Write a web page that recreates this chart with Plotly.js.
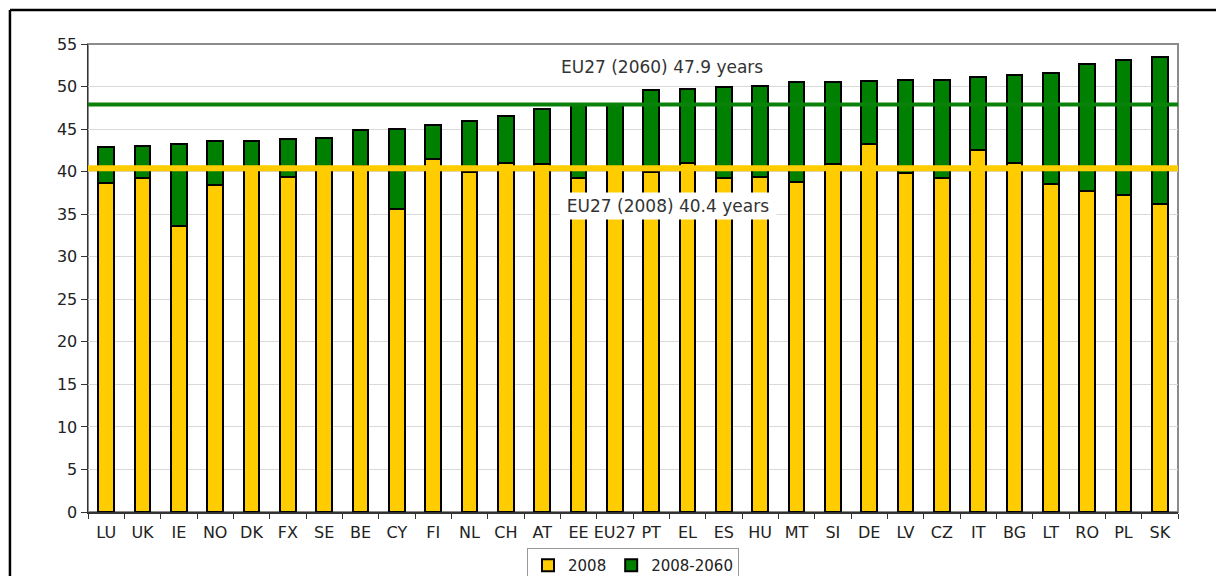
<!DOCTYPE html>
<html>
<head>
<meta charset="utf-8">
<script src="https://cdn.plot.ly/plotly-3.0.1.min.js"></script>
<style>
  html, body { margin: 0; padding: 0; background: #fff; }
  #chart { width: 1216px; height: 576px; }
</style>
</head>
<body>
<div id="chart"></div>
<script>
const categories = ['LU','UK','IE','NO','DK','FX','SE','BE','CY','FI','NL','CH','AT','EE','EU27','PT','EL','ES','HU','MT','SI','DE','LV','CZ','IT','BG','LT','RO','PL','SK'];
const age2008 = [38.7,39.2,33.6,38.4,40.4,39.4,40.5,40.7,35.6,41.5,40.0,41.0,40.9,39.2,40.4,40.0,41.0,39.2,39.4,38.8,40.9,43.2,39.8,39.2,42.5,41.0,38.6,37.7,37.3,36.2];
const change2008to2060 = [4.2,3.8,9.6,5.2,3.2,4.4,3.5,4.2,9.4,4.0,5.9,5.5,6.5,8.7,7.5,9.6,8.7,10.7,10.7,11.7,9.6,7.4,11.0,11.6,8.6,10.4,13.0,14.9,15.8,17.3];
const seriesNames = ['2008','2008-2060'];
const eu27_2008 = 40.4;
const eu27_2060 = 47.9;
const label2008 = 'EU27 (2008) 40.4 years';
const label2060 = 'EU27 (2060) 47.9 years';

const FONT = 'DejaVu Sans, Arial, sans-serif';

const traces = [
  {
    type: 'bar', name: seriesNames[0], x: categories, y: age2008,
    marker: { color: '#FFCC00', line: { color: '#000000', width: 2 } }
  },
  {
    type: 'bar', name: seriesNames[1], x: categories, y: change2008to2060,
    marker: { color: '#008000', line: { color: '#000000', width: 2 } }
  }
];

const layout = {
  width: 1216, height: 576,
  margin: { l: 88, r: 38, t: 44, b: 64, autoexpand: false },
  paper_bgcolor: '#ffffff', plot_bgcolor: '#ffffff',
  barmode: 'stack', bargap: 0.57,
  showlegend: true,
  font: { family: FONT, size: 16, color: '#222222' },
  xaxis: {
    type: 'category', automargin: false, tickangle: 0,
    showline: true, linecolor: '#333333', linewidth: 1.5,
    ticks: 'outside', tickson: 'boundaries', ticklen: 5, tickcolor: '#333333', tickwidth: 1,
    tickfont: { family: FONT, size: 16, color: '#222222' },
    ticklabelstandoff: 5,
    showgrid: false, fixedrange: true
  },
  yaxis: {
    range: [0, 55], dtick: 5, tick0: 0, automargin: false,
    showline: true, linecolor: '#333333', linewidth: 1.5,
    ticks: 'outside', ticklen: 6, tickcolor: '#333333',
    tickfont: { family: FONT, size: 16, color: '#222222' },
    showgrid: true, gridcolor: '#d9d9d9', gridwidth: 1,
    zeroline: false, fixedrange: true
  },
  legend: {
    orientation: 'h', x: 0.5, xanchor: 'center', y: -0.077, yanchor: 'top',
    bordercolor: '#999999', borderwidth: 1, bgcolor: '#ffffff',
    font: { family: FONT, size: 15, color: '#222222' },
    itemwidth: 30, traceorder: 'normal'
  },
  shapes: [
    { type: 'rect', xref: 'paper', yref: 'paper', x0: 0, x1: 1, y0: 0, y1: 1,
      line: { color: '#8c8c8c', width: 2 }, layer: 'below' },
    { type: 'line', xref: 'paper', yref: 'y', x0: 0, x1: 1, y0: eu27_2060, y1: eu27_2060,
      line: { color: '#0a820a', width: 4 } },
    { type: 'line', xref: 'paper', yref: 'y', x0: 0, x1: 1, y0: eu27_2008, y1: eu27_2008,
      line: { color: '#FFCC00', width: 6 } },
    { type: 'line', xref: 'paper', yref: 'paper', x0: -0.0716, x1: 1.1, y0: 1.0726, y1: 1.0726,
      line: { color: '#000000', width: 2.5 } },
    { type: 'line', xref: 'paper', yref: 'paper', x0: -0.0716, x1: -0.0716, y0: 1.0726, y1: -0.2,
      line: { color: '#000000', width: 2.5 } }
  ],
  annotations: [
    { xref: 'paper', yref: 'paper', x: 0.5266, y: 0.9509, xanchor: 'center', yanchor: 'middle',
      text: label2060, showarrow: false, font: { family: FONT, size: 17, color: '#333333' } },
    { xref: 'paper', yref: 'paper', x: 0.5321, y: 0.6538, xanchor: 'center', yanchor: 'middle',
      text: label2008, showarrow: false, bgcolor: '#ffffff', width: 216, height: 26, borderpad: 0,
      font: { family: FONT, size: 17, color: '#333333' } }
  ]
};

Plotly.newPlot('chart', traces, layout, { displayModeBar: false, staticPlot: true });
</script>
</body>
</html>
